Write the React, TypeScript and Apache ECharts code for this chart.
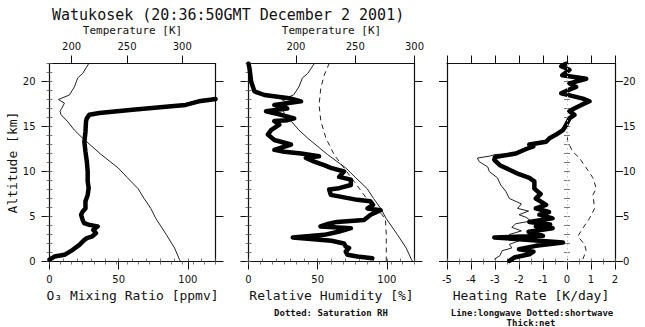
import React, { useEffect, useRef } from "react";
import * as echarts from "echarts";

// ---------- data ----------
const altTicks = [0, 5, 10, 15, 20];
const o3Ticks = [0, 50, 100];
const rhTicks = [0, 50, 100];
const tempTicks = [200, 250, 300];
const hrTicks = [-5, -4, -3, -2, -1, 0, 1, 2];

const tempAlt = [0, 0.2, 1.5, 3, 4.8, 5.9, 7.0, 8.1, 9.3, 10.4, 11.9, 13.7, 14.6, 15.6, 16.3, 16.7, 17.0, 17.6, 18.0, 18.5, 19.4, 20.4, 20.9, 22];
const tempK = [298.5, 297.5, 293, 285.5, 276, 271.5, 265.5, 260, 250.5, 242, 226.5, 210, 202.5, 196, 190.5, 189.5, 191, 193.5, 188, 198, 202.5, 205.5, 210, 215.5];

const o3Alt = [0.2, 0.55, 0.74, 1.3, 1.85, 2.4, 2.6, 2.8, 3.15, 3.5, 3.9, 4.07, 4.26, 4.6, 5.2, 5.55, 5.9, 6.7, 7.4, 8.15, 8.9, 10, 11.1, 12.2, 13.3, 14.4, 15.6, 15.9, 16.3, 16.5, 16.85, 17.2, 17.4, 17.8, 18.0, 18.05];
const o3Ppmv = [0, 3.6, 10.8, 16.8, 21.6, 25.2, 27, 31, 33.6, 31.7, 34.8, 28.8, 25, 24, 22.8, 24, 26, 26, 27.6, 28.3, 27.6, 27.6, 27, 26, 25.2, 26, 26.4, 27, 28.8, 36, 60, 84, 98.4, 108, 117.6, 120];

const rhAlt = [0.37, 0.55, 0.74, 1.1, 1.5, 1.67, 2.0, 2.3, 2.67, 2.96, 3.3, 3.7, 3.9, 4.2, 4.4, 4.6, 5.2, 5.7, 5.9, 6.3, 6.7, 6.85, 7.4, 8.0, 8.15, 8.5, 9.1, 9.4, 10, 10.4, 10.7, 11.1, 11.5, 11.7, 12.0, 12.2, 12.4, 13.0, 13.5, 14.1, 14.6, 15.2, 15.6, 15.7, 15.9, 16.3, 16.7, 17.0, 17.4, 17.8, 18.1, 18.5, 18.9, 20, 21.5, 22];
const rhPct = [89.5, 78.7, 71.5, 70.3, 72.7, 70.3, 69, 60, 32, 54.7, 65, 74, 52, 58, 64, 83.5, 88.3, 95.5, 86, 90, 88, 78.7, 59.5, 58.3, 65.5, 74, 74, 65.5, 69, 59.5, 54.7, 47.5, 41.5, 51, 38, 26, 18.7, 30.7, 18.7, 14, 16.3, 22.3, 18.7, 28.3, 33, 23.5, 12.7, 28, 18.7, 38, 30.7, 11.5, 4.3, 1.9, 0.7, 0];

const satAlt = [0, 3, 4.6, 5.2, 5.9, 7.4, 8.9, 10.4, 11.85, 13.7, 15.6, 17.4, 19.3, 20.7, 22];
const satPct = [99.6, 99.6, 99, 96.7, 90.7, 83.5, 76.3, 69, 62, 56, 52.3, 51, 52.3, 54.7, 58.3];

const netAlt = [0.07, 0.44, 0.8, 1.1, 1.37, 1.74, 2.1, 2.3, 2.5, 2.67, 2.85, 3.3, 3.7, 3.9, 4.1, 4.4, 4.8, 5.2, 5.5, 5.9, 6.3, 7.0, 7.5, 8.1, 8.9, 9.3, 9.7, 10.2, 10.7, 11.3, 11.6, 12.0, 12.5, 12.8, 13.0, 13.3, 13.7, 14.1, 14.6, 15.2, 15.9, 16.3, 16.7, 17.0, 17.4, 17.8, 18.1, 18.4, 18.7, 19.1, 19.4, 19.8, 20.3, 20.5, 20.7, 21.3, 21.7, 22];
const netHR = [-2.4, -2.2, -1.57, -1.4, -2.0, -1.3, -0.17, -1.15, -2.13, -3.03, -1.0, -1.6, -0.6, -1.3, -0.7, -1.57, -0.6, -1.15, -0.75, -1.3, -0.87, -1.3, -1.1, -1.36, -1.36, -1.57, -2.0, -2.4, -2.8, -3.03, -3.0, -2.13, -1.7, -1.4, -1.57, -0.87, -0.73, -0.45, -0.17, -0.03, 0.1, 0.31, 0.1, 0.3, 0.6, 0.94, 0.66, 0.2, -0.24, 0.1, 0.38, 0.1, 0.8, 0.3, -0.2, 0.1, -0.24, -0.03];

const lwAlt = [0.26, 0.63, 1.2, 1.5, 1.9, 2.3, 2.7, 3.0, 3.4, 3.8, 4.2, 4.5, 4.9, 5.2, 5.6, 5.9, 6.4, 7.0, 7.8, 8.5, 9.3, 10.0, 10.5, 11.1, 11.5, 11.7, 11.9, 12.0];
const lwHR = [-3.03, -2.8, -2.7, -2.3, -2.4, -2.0, -2.13, -2.4, -1.9, -2.3, -2.13, -1.5, -1.7, -2.0, -1.6, -2.06, -1.9, -2.4, -2.55, -2.76, -2.9, -3.24, -3.3, -3.66, -3.73, -3.24, -2.96, -2.13];

const swAlt = [0.26, 1.2, 1.9, 2.8, 3.7, 4.8, 5.9, 7.4, 8.1, 9.3, 10.4, 11.5, 12.2, 13.3, 14.4];
const swHR = [0.66, 0.8, 0.73, 0.45, 0.66, 0.94, 1.15, 1.08, 1.22, 1.08, 0.8, 0.52, 0.24, 0.03, 0];

// ---------- styling ----------
const INK = "#111";
const MONO = "'DejaVu Sans Mono', monospace";
const TICKF = "'DejaVu Sans', sans-serif";

const pairs = (xs: number[], ys: number[]) => xs.map((x, i) => [x, ys[i]]);

const grids = [
  { left: 49.5, top: 63.5, width: 166, height: 198 },
  { left: 248.5, top: 63.5, width: 166, height: 198 },
  { left: 447, top: 63.5, width: 168, height: 198 },
];

function mainX(g: number, pos: string, min: number, max: number, ticks: number[], labels: boolean, name?: string, nameGap?: number, nameSize = 13) {
  return {
    type: "value", gridIndex: g, position: pos, min, max,
    axisLine: { show: true, onZero: false, lineStyle: { color: INK, width: 1.2 } },
    axisTick: { show: true, inside: false, length: 8, customValues: ticks, lineStyle: { color: INK, width: 1 } },
    axisLabel: { show: labels, customValues: ticks, margin: 12.5, fontSize: 10, fontFamily: TICKF, color: INK },
    splitLine: { show: false },
    name: name || "", nameLocation: "middle", nameGap: nameGap || 0,
    nameTextStyle: { fontFamily: MONO, fontSize: nameSize, color: INK },
  };
}
function minorX(g: number, pos: string, min: number, max: number, step: number) {
  return {
    type: "value", gridIndex: g, position: pos, min, max, interval: step,
    axisLine: { show: false },
    axisTick: { show: true, inside: true, length: 3, lineStyle: { color: "#555", width: 0.8 } },
    axisLabel: { show: false }, splitLine: { show: false },
  };
}
function mainY(g: number, pos: string, labels: boolean, margin: number, name?: string) {
  return {
    type: "value", gridIndex: g, position: pos, min: 0, max: 22,
    axisLine: { show: true, onZero: false, lineStyle: { color: INK, width: 1.2 } },
    axisTick: { show: true, inside: false, length: 8, customValues: altTicks, lineStyle: { color: INK, width: 1 } },
    axisLabel: { show: labels, customValues: altTicks, margin, fontSize: 10, fontFamily: TICKF, color: INK },
    splitLine: { show: false },
    name: name || "", nameLocation: "middle", nameGap: 26,
    nameTextStyle: { fontFamily: MONO, fontSize: 13, color: INK },
  };
}
function minorY(g: number, pos: string) {
  return {
    type: "value", gridIndex: g, position: pos, min: 0, max: 22, interval: 1,
    axisLine: { show: false },
    axisTick: { show: true, inside: true, length: 3, lineStyle: { color: "#555", width: 0.8 } },
    axisLabel: { show: false }, splitLine: { show: false },
  };
}

const xAxis = [
  // panel 1: 0..3
  mainX(0, "bottom", 0, 120, o3Ticks, true, "O₃ Mixing Ratio [ppmv]", 27.5),
  mainX(0, "top", 180, 330, tempTicks, true, "Temperature [K]", 26.5, 11),
  minorX(0, "bottom", 0, 120, 10),
  minorX(0, "top", 180, 330, 10),
  // panel 2: 4..7
  mainX(1, "bottom", 0, 120, rhTicks, true, "Relative Humidity [%]", 27.5),
  mainX(1, "top", 160, 300, tempTicks, true, "Temperature [K]", 26.5, 11),
  minorX(1, "bottom", 0, 120, 10),
  minorX(1, "top", 160, 300, 10),
  // panel 3: 8..11
  mainX(2, "bottom", -5, 2, hrTicks, true, "Heating Rate [K/day]", 27.5),
  mainX(2, "top", -5, 2, hrTicks, false),
  minorX(2, "bottom", -5, 2, 0.5),
  minorX(2, "top", -5, 2, 0.5),
];

const yAxis = [
  mainY(0, "left", true, 14, "Altitude [km]"),
  mainY(0, "right", false, 8),
  minorY(0, "left"),
  minorY(0, "right"),
  mainY(1, "left", false, 8),
  mainY(1, "right", false, 8),
  minorY(1, "left"),
  minorY(1, "right"),
  mainY(2, "left", false, 8),
  mainY(2, "right", true, 8),
  minorY(2, "left"),
  minorY(2, "right"),
];

const thick = { color: "#000", width: 4.5, cap: "round", join: "round" };
const thin = { color: "#222", width: 1 };
const dashed = { color: "#222", width: 1, type: [5, 4] };

const series = [
  { type: "line", name: "Temperature", xAxisIndex: 1, yAxisIndex: 0, data: pairs(tempK, tempAlt), showSymbol: false, symbol: "none", lineStyle: thin },
  { type: "line", name: "O3", xAxisIndex: 0, yAxisIndex: 0, data: pairs(o3Ppmv, o3Alt), showSymbol: false, symbol: "none", lineStyle: thick },

  { type: "line", name: "Temperature", xAxisIndex: 5, yAxisIndex: 4, data: pairs(tempK, tempAlt), showSymbol: false, symbol: "none", lineStyle: thin },
  { type: "line", name: "Saturation RH", xAxisIndex: 4, yAxisIndex: 4, data: pairs(satPct, satAlt), showSymbol: false, symbol: "none", lineStyle: dashed },
  { type: "line", name: "RH", xAxisIndex: 4, yAxisIndex: 4, data: pairs(rhPct, rhAlt), showSymbol: false, symbol: "none", lineStyle: thick },

  {
    type: "line", name: "Shortwave", xAxisIndex: 8, yAxisIndex: 8, data: pairs(swHR, swAlt), showSymbol: false, symbol: "none", lineStyle: dashed,
    markLine: { silent: true, symbol: "none", label: { show: false }, lineStyle: { color: "#c4c4c4", type: [1.5, 2.5], width: 1 }, data: [{ xAxis: 0 }] },
  },
  { type: "line", name: "Longwave", xAxisIndex: 8, yAxisIndex: 8, data: pairs(lwHR, lwAlt), showSymbol: false, symbol: "none", lineStyle: thin },
  { type: "line", name: "Net", xAxisIndex: 8, yAxisIndex: 8, data: pairs(netHR, netAlt), showSymbol: false, symbol: "none", lineStyle: thick },
];

const graphic = [
  { type: "text", left: 52, top: 7, style: { text: "Watukosek (20:36:50GMT December 2 2001)", font: `15px ${MONO}`, fill: INK } },
  { type: "text", x: 331, y: 313, style: { text: "Dotted: Saturation RH", font: `bold 9px ${MONO}`, fill: INK, align: "center", verticalAlign: "middle" } },
  { type: "text", x: 532, y: 313, style: { text: "Line:longwave Dotted:shortwave", font: `bold 9px ${MONO}`, fill: INK, align: "center", verticalAlign: "middle" } },
  { type: "text", x: 531, y: 322.5, style: { text: "Thick:net", font: `bold 9px ${MONO}`, fill: INK, align: "center", verticalAlign: "middle" } },
];

const option = {
  animation: false,
  backgroundColor: "#fff",
  grid: grids,
  xAxis,
  yAxis,
  series,
  graphic,
};

export default function App() {
  const ref = useRef<HTMLDivElement>(null);
  useEffect(() => {
    if (!ref.current) return;
    const chart = echarts.init(ref.current, null, { renderer: "svg" });
    chart.setOption(option as any);
    return () => chart.dispose();
  }, []);
  return <div ref={ref} style={{ position: "absolute", left: 0, top: 0, width: 645, height: 327 }} />;
}
